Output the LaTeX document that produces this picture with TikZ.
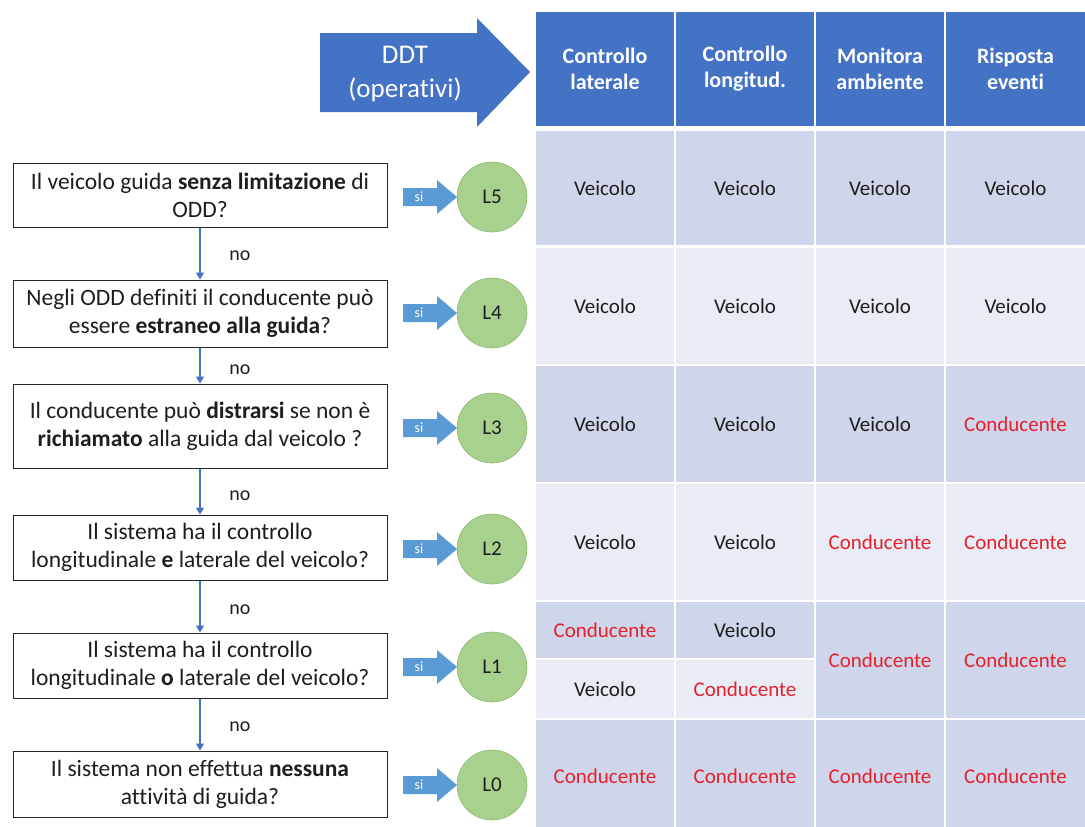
\documentclass[tikz,border=0pt]{standalone}
\usepackage{fontspec}
\setmainfont{Carlito}[Ligatures={NoCommon,NoContextual}, RawFeature={-calt;-clig;-dlig}]
\usetikzlibrary{arrows.meta}
\definecolor{hdblue}{HTML}{4472C4}
\definecolor{siblue}{HTML}{5B9BD5}
\definecolor{celldark}{HTML}{CFD5EA}
\definecolor{celllight}{HTML}{E9EBF5}
\definecolor{drvred}{HTML}{E3222D}
\definecolor{txtdark}{HTML}{1E1E1E}
\definecolor{lvfill}{HTML}{A9D18E}
\definecolor{lvdraw}{HTML}{8DB86E}
\tikzset{
  cellbase/.style={inner sep=0pt, align=center, font=\fontsize{21}{25}\selectfont},
  dk/.style={cellbase, fill=celldark},
  lt/.style={cellbase, fill=celllight},
  hd/.style={cellbase, fill=hdblue, text=white, font=\bfseries\fontsize{22}{26}\selectfont},
  veh/.style={text=txtdark},
  drv/.style={text=drvred},
  qbox/.style={draw=black!85, line width=1pt, fill=white, minimum width=374pt, align=center, inner sep=0pt, text=txtdark, font=\fontsize{23.5}{28}\selectfont},
  lvl/.style={circle, fill=lvfill, draw=lvdraw, line width=0.6pt, minimum size=70pt, inner sep=0pt, text=txtdark, font=\fontsize{21}{24}\selectfont},
  noarrow/.style={draw=hdblue, line width=1.1pt, -{Triangle[width=8pt,length=7pt]}},
  nolbl/.style={font=\fontsize{20}{24}\selectfont, text=txtdark},
  silbl/.style={font=\fontsize{14}{16}\selectfont, text=white, inner sep=0pt},
}
\newcommand\siarrow[2]{%
  \fill[siblue] (403,#1-9) -- (437,#1-9) -- (437,#1-17) -- (457,#1) -- (437,#1+17) -- (437,#1+9) -- (403,#1+9) -- cycle;
  \node[silbl] (#2) at (419,#1) {si};
}
\begin{document}
\begin{tikzpicture}[x=1pt,y=-1pt]
\useasboundingbox (0,0) rectangle (1085,827);
\fill[white] (0,0) rectangle (1085,827);

% big DDT arrow
\fill[hdblue] (320,33) -- (477,33) -- (477,18) -- (530,72) -- (477,127) -- (477,112) -- (320,112) -- cycle;
\node[text=white, align=center, font=\fontsize{27}{34}\selectfont] (ddt) at (405,74) {DDT\\(operativi)};

% header
\node[hd, minimum width=138pt, minimum height=114pt] (h1) at (605,69) {Controllo\\laterale};
\node[hd, minimum width=138pt, minimum height=114pt] (h2) at (745,69) {Controllo\\longitud.};
\node[hd, minimum width=128pt, minimum height=114pt] (h3) at (880,69) {Monitora\\ambiente};
\node[hd, minimum width=139pt, minimum height=114pt] (h4) at (1015.5,69) {Risposta\\eventi};

% row L5
\node[dk, veh, minimum width=138pt, minimum height=114pt] (c51) at (605,188) {Veicolo};
\node[dk, veh, minimum width=138pt, minimum height=114pt] (c52) at (745,188) {Veicolo};
\node[dk, veh, minimum width=128pt, minimum height=114pt] (c53) at (880,188) {Veicolo};
\node[dk, veh, minimum width=139pt, minimum height=114pt] (c54) at (1015.5,188) {Veicolo};
% row L4
\node[lt, veh, minimum width=138pt, minimum height=116pt] (c41) at (605,306) {Veicolo};
\node[lt, veh, minimum width=138pt, minimum height=116pt] (c42) at (745,306) {Veicolo};
\node[lt, veh, minimum width=128pt, minimum height=116pt] (c43) at (880,306) {Veicolo};
\node[lt, veh, minimum width=139pt, minimum height=116pt] (c44) at (1015.5,306) {Veicolo};
% row L3
\node[dk, veh, minimum width=138pt, minimum height=116pt] (c31) at (605,424) {Veicolo};
\node[dk, veh, minimum width=138pt, minimum height=116pt] (c32) at (745,424) {Veicolo};
\node[dk, veh, minimum width=128pt, minimum height=116pt] (c33) at (880,424) {Veicolo};
\node[dk, drv, minimum width=139pt, minimum height=116pt] (c34) at (1015.5,424) {Conducente};
% row L2
\node[lt, veh, minimum width=138pt, minimum height=116pt] (c21) at (605,542) {Veicolo};
\node[lt, veh, minimum width=138pt, minimum height=116pt] (c22) at (745,542) {Veicolo};
\node[lt, drv, minimum width=128pt, minimum height=116pt] (c23) at (880,542) {Conducente};
\node[lt, drv, minimum width=139pt, minimum height=116pt] (c24) at (1015.5,542) {Conducente};
% row L1
\node[dk, drv, minimum width=138pt, minimum height=56pt] (c11a) at (605,630) {Conducente};
\node[dk, veh, minimum width=138pt, minimum height=56pt] (c12a) at (745,630) {Veicolo};
\node[lt, veh, minimum width=138pt, minimum height=58pt] (c11b) at (605,689) {Veicolo};
\node[lt, drv, minimum width=138pt, minimum height=58pt] (c12b) at (745,689) {Conducente};
\node[dk, drv, minimum width=128pt, minimum height=116pt] (c13) at (880,660) {Conducente};
\node[dk, drv, minimum width=139pt, minimum height=116pt] (c14) at (1015.5,660) {Conducente};
% row L0
\node[dk, drv, minimum width=138pt, minimum height=112pt] (c01) at (605,776) {Conducente};
\node[dk, drv, minimum width=138pt, minimum height=112pt] (c02) at (745,776) {Conducente};
\node[dk, drv, minimum width=128pt, minimum height=112pt] (c03) at (880,776) {Conducente};
\node[dk, drv, minimum width=139pt, minimum height=112pt] (c04) at (1015.5,776) {Conducente};

% question boxes
\node[qbox, minimum height=64pt] (q5) at (200,195) {Il veicolo guida \textbf{senza limitazione} di\\ODD?};
\node[qbox, minimum height=67pt] (q4) at (200,313.5) {Negli ODD definiti il conducente può\\essere \textbf{estraneo alla guida}?};
\node[qbox, minimum height=84pt] (q3) at (200,426) {Il conducente può \textbf{distrarsi} se non è\\\textbf{richiamato} alla guida dal veicolo ?};
\node[qbox, minimum height=65pt] (q2) at (200,547.5) {Il sistema ha il controllo\\longitudinale \textbf{e} laterale del veicolo?};
\node[qbox, minimum height=65pt] (q1) at (200,665.5) {Il sistema ha il controllo\\longitudinale \textbf{o} laterale del veicolo?};
\node[qbox, minimum height=66pt] (q0) at (200,784) {Il sistema non effettua \textbf{nessuna}\\attività di guida?};

% level circles
\node[lvl] (l5) at (492,197) {L5};
\node[lvl] (l4) at (492,313) {L4};
\node[lvl] (l3) at (492,428) {L3};
\node[lvl] (l2) at (492,549) {L2};
\node[lvl] (l1) at (492,667) {L1};
\node[lvl] (l0) at (492,785) {L0};

% si arrows
\siarrow{197}{s5}
\siarrow{313}{s4}
\siarrow{428}{s3}
\siarrow{549}{s2}
\siarrow{667}{s1}
\siarrow{785}{s0}

% no arrows
\draw[noarrow] (q5.south) -- (q4.north) node[nolbl, midway, xshift=40pt, yshift=-2pt] {no};
\draw[noarrow] (q4.south) -- (q3.north) node[nolbl, midway, xshift=40pt, yshift=-4pt] {no};
\draw[noarrow] (q3.south) -- (q2.north) node[nolbl, midway, xshift=40pt, yshift=-4pt] {no};
\draw[noarrow] (q2.south) -- (q1.north) node[nolbl, midway, xshift=40pt, yshift=-3pt] {no};
\draw[noarrow] (q1.south) -- (q0.north) node[nolbl, midway, xshift=40pt, yshift=-2pt] {no};
\end{tikzpicture}
\end{document}
